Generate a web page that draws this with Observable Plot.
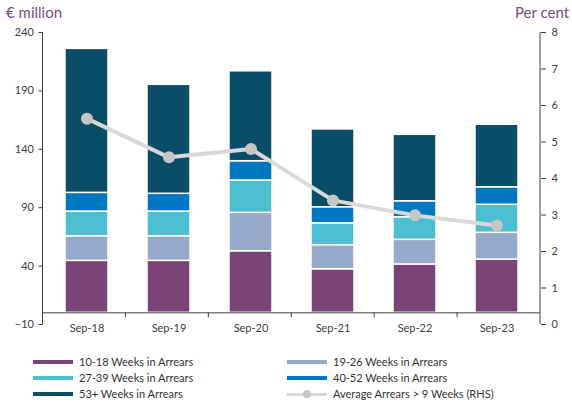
<!DOCTYPE html>
<html>
<head>
<meta charset="utf-8">
<script src="https://cdn.jsdelivr.net/npm/d3@7"></script>
<script src="https://cdn.jsdelivr.net/npm/@observablehq/plot@0.6"></script>
<style>
  body { margin: 0; background: #fff; font-family: Lato, "Open Sans", sans-serif; }
  #wrap { position: relative; width: 572px; height: 406px; overflow: hidden; }
  #chart { position: absolute; left: 0; top: 0; }
  .ttl { position: absolute; top: 3px; font-size: 15px; color: #7B4A85; white-space: nowrap; }
  .leg { position: absolute; font-size: 11px; color: #333; white-space: nowrap; height: 14px; line-height: 14px; }
  .sw { position: absolute; left: 0; top: 5px; width: 40px; height: 4px; }
  .lt { position: absolute; left: 46px; top: 0; }
</style>
</head>
<body>
<div id="wrap">
  <div id="chart"></div>
  <div class="ttl" style="left:6px">€ million</div>
  <div class="ttl" style="left:515px">Per cent</div>
  <div id="legend"></div>
</div>
<script>
const categories = ["Sep-18", "Sep-19", "Sep-20", "Sep-21", "Sep-22", "Sep-23"];
const seriesNames = ["10-18 Weeks in Arrears", "19-26 Weeks in Arrears", "27-39 Weeks in Arrears", "40-52 Weeks in Arrears", "53+ Weeks in Arrears"];
const w10_18 = [44.5, 44.5, 52.7, 37.3, 41.4, 45.6];
const w19_26 = [21.1, 21.1, 32.9, 20.6, 21.1, 22.9];
const w27_39 = [21.1, 21.1, 27.7, 18.8, 19.3, 24.0];
const w40_52 = [16.0, 15.2, 16.5, 13.7, 13.7, 15.0];
const w53p = [123.3, 93.3, 77.0, 66.6, 56.9, 53.5];
const lineName = "Average Arrears > 9 Weeks (RHS)";
const avgArrears = [5.64, 4.58, 4.81, 3.40, 2.99, 2.71];
const leftTicks = [-10, 40, 90, 140, 190, 240];
const rightTicks = [0, 1, 2, 3, 4, 5, 6, 7, 8];

const colors = ["#7B4479", "#97AACB", "#4BBFD0", "#0078C1", "#0A4D68"];
const lineColor = "#D9D9D9";
const dotColor = "#C6C6C6";
const axisColor = "#404040";

const seriesValues = [w10_18, w19_26, w27_39, w40_52, w53p];
const table = [];
seriesNames.forEach((s, i) => categories.forEach((c, j) => table.push({cat: c, series: s, value: seriesValues[i][j]})));

const leftDomain = [leftTicks[0], leftTicks[leftTicks.length - 1]];
const rightDomain = [rightTicks[0], rightTicks[rightTicks.length - 1]];
const toLeft = p => leftDomain[0] + (p - rightDomain[0]) * (leftDomain[1] - leftDomain[0]) / (rightDomain[1] - rightDomain[0]);
const fromLeft = v => rightDomain[0] + (v - leftDomain[0]) * (rightDomain[1] - rightDomain[0]) / (leftDomain[1] - leftDomain[0]);
const lineData = categories.map((c, i) => ({cat: c, y: toLeft(avgArrears[i])}));

function axisLines(index, scales, values, dims) {
  const {marginLeft: ml, marginRight: mr, marginTop: mt, marginBottom: mb, width, height} = dims;
  const g = d3.create("svg:g").attr("stroke", axisColor).attr("stroke-width", 1);
  g.append("line").attr("x1", ml).attr("x2", ml).attr("y1", mt).attr("y2", height - mb);
  g.append("line").attr("x1", width - mr).attr("x2", width - mr).attr("y1", mt).attr("y2", height - mb);
  const y0 = scales.y(0);
  const step = (width - ml - mr) / categories.length;
  for (let i = 1; i < categories.length; i++) {
    const x = ml + i * step;
    g.append("line").attr("x1", x).attr("x2", x).attr("y1", y0).attr("y2", y0 + 5);
  }
  return g.node();
}

const chart = Plot.plot({
  width: 572,
  height: 345,
  marginLeft: 42.5,
  marginRight: 32,
  marginTop: 32,
  marginBottom: 21,
  x: {domain: categories, paddingInner: 0.475, paddingOuter: 0.2375, axis: null},
  y: {domain: leftDomain, axis: null},
  color: {domain: seriesNames, range: colors},
  style: {fontFamily: "Lato, sans-serif", fontSize: "11px", color: axisColor, background: "white"},
  marks: [
    Plot.barY(table, {x: "cat", y: "value", fill: "series", stroke: "white", strokeWidth: 1.5}),
    Plot.ruleY([0], {stroke: axisColor}),
    axisLines,
    Plot.axisY({ticks: leftTicks, anchor: "left", tickSize: 4, tickPadding: 5, label: null}),
    Plot.axisY({ticks: rightTicks.map(toLeft), anchor: "right", tickSize: 5, tickPadding: 6, label: null,
      tickFormat: v => String(Math.round(fromLeft(v)))}),
    Plot.text(categories, {x: d => d, y: leftDomain[0], dy: 4, text: d => d, fill: axisColor}),
    Plot.line(lineData, {x: "cat", y: "y", stroke: lineColor, strokeWidth: 4}),
    Plot.dot(lineData, {x: "cat", y: "y", r: 6, fill: dotColor, stroke: "none"})
  ]
});
document.getElementById("chart").appendChild(chart);

// legend
const legendItems = seriesNames.map((s, i) => ({name: s, color: colors[i], line: false}));
legendItems.push({name: lineName, color: lineColor, line: true});
const leg = document.getElementById("legend");
const colX = [33, 287];
const rowY = [355, 371, 387];
legendItems.forEach((it, i) => {
  const d = document.createElement("div");
  d.className = "leg";
  d.style.left = colX[i % 2] + "px";
  d.style.top = rowY[Math.floor(i / 2)] + "px";
  let sw = `<div class="sw" style="background:${it.color}"></div>`;
  if (it.line) {
    sw = `<div class="sw" style="background:${it.color};height:3px;top:6px"></div>` +
         `<div style="position:absolute;left:16px;top:3px;width:8px;height:8px;border-radius:50%;background:${dotColor}"></div>`;
  }
  d.innerHTML = sw + `<span class="lt">${it.name}</span>`;
  leg.appendChild(d);
});
</script>
</body>
</html>
